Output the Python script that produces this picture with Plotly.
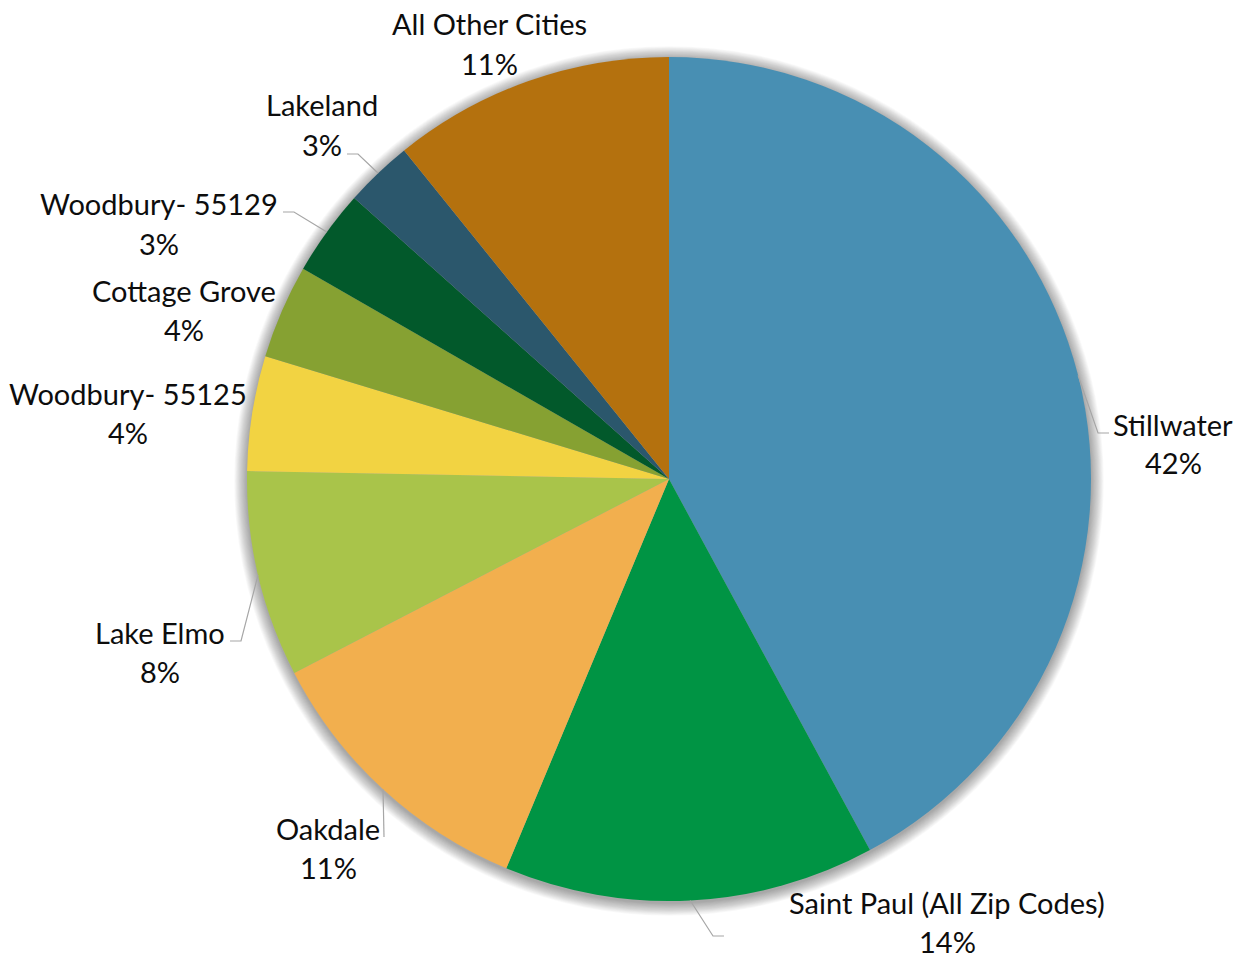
import math
import plotly.graph_objects as go

# Share of records by city (percent)
cities = [
    "Stillwater",
    "Saint Paul (All Zip Codes)",
    "Oakdale",
    "Lake Elmo",
    "Woodbury- 55125",
    "Cottage Grove",
    "Woodbury- 55129",
    "Lakeland",
    "All Other Cities",
]
shares = [42.1, 14.2, 11.1, 7.9, 4.4, 3.6, 3.3, 2.6, 10.8]
colors = [
    "#488FB3", "#009444", "#F2AF4E", "#A9C44A", "#F2D342",
    "#86A132", "#02592B", "#2B576C", "#B4710E",
]

W, H = 1243, 959
CX, CY, R = 669, 479, 422  # pie centre and radius, px

FONT = "Lato"
FSIZE = 29
LINE_GAP = 39  # px between name and percent lines

# Label text centres (name line, px) and leader elbows (px), per city
label_xy = {
    "Stillwater": (1173, 424),
    "Saint Paul (All Zip Codes)": (947, 902),
    "Oakdale": (328, 828),
    "Lake Elmo": (160, 632),
    "Woodbury- 55125": (128, 393),
    "Cottage Grove": (184, 290),
    "Woodbury- 55129": (159, 204),
    "Lakeland": (322, 105),
    "All Other Cities": (489, 24),
}
leader_elbows = {
    "Stillwater": [(1109, 433), (1098, 433)],
    "Saint Paul (All Zip Codes)": [(724, 936), (713, 936)],
    "Oakdale": [(384, 837)],
    "Lake Elmo": [(230, 641), (241, 641)],
    "Woodbury- 55129": [(283, 212), (294, 212)],
    "Lakeland": [(347, 154), (358, 154)],
}


def px(x):
    return x / W


def py(y):
    return 1 - y / H


total = sum(shares)

fig = go.Figure(
    go.Pie(
        labels=cities,
        values=shares,
        marker=dict(colors=colors, line=dict(width=0)),
        sort=False,
        direction="clockwise",
        rotation=0,
        textinfo="none",
        hoverinfo="label+percent",
        showlegend=False,
        domain=dict(x=[px(CX - R), px(CX + R)], y=[py(CY + R), py(CY - R)]),
    )
)

shapes = []
# soft shadow around the pie
for i in range(16, 0, -1):
    rr = R + i * 0.8
    oy = 2
    shapes.append(dict(
        type="circle", xref="paper", yref="paper", layer="below",
        x0=px(CX - rr), x1=px(CX + rr), y0=py(CY + oy + rr), y1=py(CY + oy - rr),
        fillcolor="rgba(0,0,0,0.022)", line=dict(width=0),
    ))

# leader lines to the slice midpoints on the rim
cum = 0.0
annotations = []
for name, v in zip(cities, shares):
    mid = (cum + v / 2) / total * 2 * math.pi
    cum += v
    if name in leader_elbows:
        rim = (CX + R * math.sin(mid), CY - R * math.cos(mid))
        pts = leader_elbows[name] + [rim]
        path = "M " + " L ".join(f"{px(x):.5f},{py(y):.5f}" for x, y in pts)
        shapes.append(dict(
            type="path", xref="paper", yref="paper", path=path,
            line=dict(color="#A6A6A6", width=1.2),
        ))
    lx, ly = label_xy[name]
    pct = f"{round(v / total * 100)}%"
    for text, yy in ((name, ly), (pct, ly + LINE_GAP)):
        annotations.append(dict(
            text=text, x=px(lx), y=py(yy), xref="paper", yref="paper",
            xanchor="center", yanchor="middle", showarrow=False,
            font=dict(family=FONT, size=FSIZE, color="#0D0D0D"),
        ))

fig.update_layout(
    width=W, height=H,
    margin=dict(l=0, r=0, t=0, b=0),
    paper_bgcolor="white", plot_bgcolor="white",
    shapes=shapes, annotations=annotations,
)

fig.write_html("out.html")
